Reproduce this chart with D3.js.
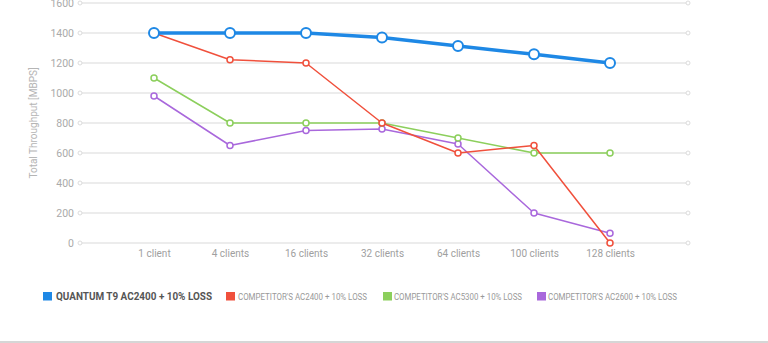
<!DOCTYPE html>
<html>
<head>
<meta charset="utf-8">
<script src="https://cdn.jsdelivr.net/npm/d3@7"></script>
<style>
  html, body { margin: 0; padding: 0; background: #fff; }
  svg { display: block; font-family: Roboto, "Noto Sans", sans-serif; }
</style>
</head>
<body>
<svg id="chart" width="768" height="343"></svg>
<script>
// Throughput per client count
const categories = ["1 client", "4 clients", "16 clients", "32 clients", "64 clients", "100 clients", "128 clients"];
const yTicks = [0, 200, 400, 600, 800, 1000, 1200, 1400, 1600];

const quantumT9 = [1400, 1400, 1400, 1370, 1313, 1258, 1200];
const compAC2400 = [1400, 1222, 1200, 800, 600, 650, 0];
const compAC5300 = [1100, 800, 800, 800, 700, 600, 600];
const compAC2600 = [980, 650, 750, 760, 660, 200, 65];

const seriesNames = [
  "QUANTUM T9 AC2400 + 10% LOSS",
  "COMPETITOR'S AC2400 + 10% LOSS",
  "COMPETITOR'S AC5300 + 10% LOSS",
  "COMPETITOR'S AC2600 + 10% LOSS"
];
const seriesColors = ["#1e88e5", "#f0503c", "#8ccf5c", "#a968dc"];

const series = [
  { name: seriesNames[0], values: quantumT9, color: seriesColors[0], main: true },
  { name: seriesNames[1], values: compAC2400, color: seriesColors[1] },
  { name: seriesNames[2], values: compAC5300, color: seriesColors[2] },
  { name: seriesNames[3], values: compAC2600, color: seriesColors[3] }
];

const svg = d3.select("#chart");

const x = d3.scalePoint().domain(categories).range([78, 686]).padding(1);
const y = d3.scaleLinear().domain([0, 1600]).range([243, 3]);

const gridLeft = 80, gridRight = 688;

// horizontal grid lines with small end caps
const grid = svg.append("g");
yTicks.forEach(t => {
  grid.append("line")
    .attr("x1", gridLeft).attr("x2", gridRight)
    .attr("y1", y(t)).attr("y2", y(t))
    .attr("stroke", "#e6e6e6").attr("stroke-width", 1.5);
  [gridLeft, gridRight].forEach(cx => {
    grid.append("circle")
      .attr("cx", cx).attr("cy", y(t)).attr("r", 2)
      .attr("fill", "#fff").attr("stroke", "#dcdcdc").attr("stroke-width", 1);
  });
});

// y axis labels
const yAxis = d3.axisLeft(y).tickValues(yTicks).tickFormat(d3.format("d")).tickSize(0).tickPadding(0);
const gy = svg.append("g").attr("transform", "translate(74,0)").call(yAxis);
gy.select(".domain").remove();
gy.selectAll("text")
  .attr("fill", "#aaaaaa").attr("font-size", 10.5)
  .attr("font-family", "Roboto, sans-serif");

// x axis labels
const xAxis = d3.axisBottom(x).tickSize(0).tickPadding(0);
const gx = svg.append("g").attr("transform", "translate(0,250)").call(xAxis);
gx.select(".domain").remove();
gx.selectAll("text")
  .attr("fill", "#a0a0a0").attr("font-size", 10)
  .attr("font-family", "Roboto, sans-serif");

// y axis title
svg.append("text")
  .attr("transform", "translate(37,123) rotate(-90)")
  .attr("text-anchor", "middle")
  .attr("fill", "#b5b5b5").attr("font-size", 10)
  .text("Total Throughput [MBPS]");

// lines, drawn so the main series sits on top
const line = d3.line().x((d, i) => x(categories[i])).y(d => y(d));
[...series].reverse().forEach(s => {
  const g = svg.append("g");
  g.append("path")
    .datum(s.values)
    .attr("d", line)
    .attr("fill", "none")
    .attr("stroke", s.color)
    .attr("stroke-width", s.main ? 3.5 : 1.5)
    .attr("stroke-linejoin", "round");
  g.selectAll("circle")
    .data(s.values)
    .join("circle")
    .attr("cx", (d, i) => x(categories[i]))
    .attr("cy", d => y(d))
    .attr("r", s.main ? 5 : 3)
    .attr("fill", "#fff")
    .attr("stroke", s.color)
    .attr("stroke-width", s.main ? 2 : 1.5);
});

// legend
const legendItems = [
  { x: 43, textX: 56, size: 11, weight: "bold", fill: "#555", width: 156 },
  { x: 226, textX: 238, size: 8.5, weight: "normal", fill: "#999", width: 129 },
  { x: 383, textX: 394, size: 8.5, weight: "normal", fill: "#999", width: 128 },
  { x: 537, textX: 548, size: 8.5, weight: "normal", fill: "#999", width: 129 }
];
const legend = svg.append("g");
series.forEach((s, i) => {
  const it = legendItems[i];
  legend.append("rect")
    .attr("x", it.x).attr("y", 292).attr("width", 9).attr("height", 8.5)
    .attr("fill", s.color);
  legend.append("text")
    .attr("x", it.textX).attr("y", 299.5)
    .attr("font-size", it.size).attr("font-weight", it.weight)
    .attr("fill", it.fill)
    .attr("textLength", it.width).attr("lengthAdjust", "spacingAndGlyphs")
    .text(s.name);
});

// bottom separator
svg.append("line")
  .attr("x1", 0).attr("x2", 768).attr("y1", 342).attr("y2", 342)
  .attr("stroke", "#d6d6d6").attr("stroke-width", 2);
</script>
</body>
</html>
